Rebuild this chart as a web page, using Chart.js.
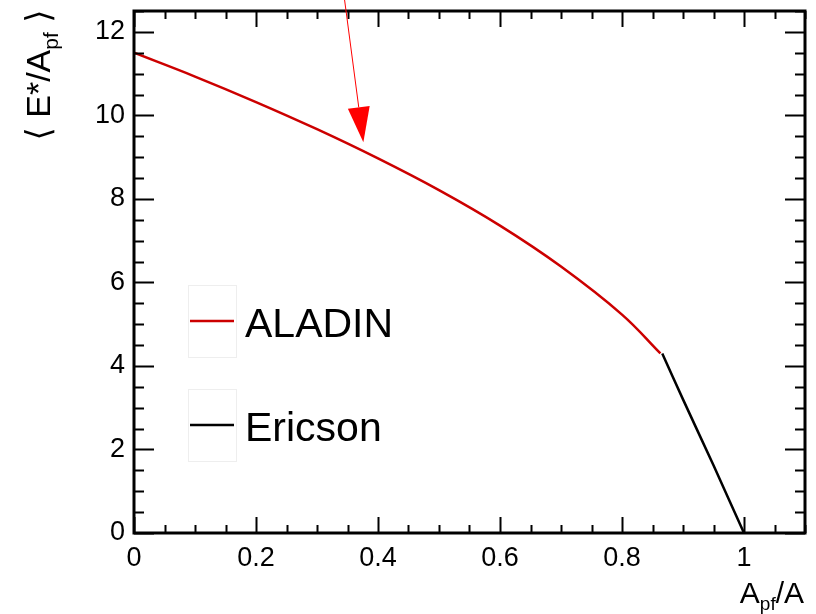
<!DOCTYPE html>
<html>
<head>
<meta charset="utf-8">
<script src="https://cdn.jsdelivr.net/npm/chart.js@4/dist/chart.umd.min.js"></script>
<style>
html,body{margin:0;padding:0;background:#fff;}
#wrap{width:816px;height:614px;}
</style>
</head>
<body>
<div id="wrap"><canvas id="c" width="816" height="614"></canvas></div>
<script>
// ---- data ----
const aladinX = [0, 0.1, 0.2, 0.3, 0.4, 0.5, 0.6, 0.7, 0.8, 0.863];
const aladinY = [11.5, 10.93, 10.32, 9.67, 8.97, 8.21, 7.36, 6.38, 5.23, 4.30];
const ericsonX = [0.866, 0.9, 0.95, 1.0];
const ericsonY = [4.30, 3.20, 1.62, 0.0];
const seriesLabels = ['ALADIN', 'Ericson'];
const xTickLabels = [0, 0.2, 0.4, 0.6, 0.8, 1];
const yTickLabels = [0, 2, 4, 6, 8, 10, 12];
const arrowFrom = [0.345, 12.79];
const arrowTo = [0.376, 9.36];

const FONT = '"Liberation Sans", Arial, "DejaVu Sans", sans-serif';
const toPts = (xs, ys) => xs.map((x, i) => ({x: x, y: ys[i]}));

const framePlugin = {
  id: 'frame',
  afterDraw(chart) {
    const ctx = chart.ctx;
    const a = chart.chartArea;
    const xs = chart.scales.x, ys = chart.scales.y;
    ctx.save();
    ctx.strokeStyle = '#000';
    // ticks
    ctx.lineWidth = 2;
    ctx.beginPath();
    for (let v = 0; v <= 1.1 + 1e-9; v += 0.05) {
      const major = Math.abs(v / 0.2 - Math.round(v / 0.2)) < 1e-6;
      const L = major ? 16 : 8;
      const px = Math.round(xs.getPixelForValue(v)) + 0.5;
      ctx.moveTo(px, a.bottom); ctx.lineTo(px, a.bottom - L);
      ctx.moveTo(px, a.top); ctx.lineTo(px, a.top + L);
    }
    for (let v = 0; v <= 12.5 + 1e-9; v += 0.5) {
      const major = Math.abs(v / 2 - Math.round(v / 2)) < 1e-6;
      const L = major ? 20 : 10;
      const py = Math.round(ys.getPixelForValue(v)) + 0.5;
      ctx.moveTo(a.left, py); ctx.lineTo(a.left + L, py);
      ctx.moveTo(a.right, py); ctx.lineTo(a.right - L, py);
    }
    ctx.stroke();
    // frame
    ctx.lineWidth = 3;
    ctx.strokeRect(a.left, a.top, a.right - a.left, a.bottom - a.top);

    // arrow
    const x0 = xs.getPixelForValue(arrowFrom[0]), y0 = ys.getPixelForValue(arrowFrom[1]);
    const x1 = xs.getPixelForValue(arrowTo[0]), y1 = ys.getPixelForValue(arrowTo[1]);
    const ang = Math.atan2(y1 - y0, x1 - x0);
    const hl = 35, hw = 11;
    const bx = x1 - hl * Math.cos(ang), by = y1 - hl * Math.sin(ang);
    ctx.strokeStyle = '#ff0000';
    ctx.fillStyle = '#ff0000';
    ctx.lineWidth = 1;
    ctx.beginPath(); ctx.moveTo(x0, y0); ctx.lineTo(bx, by); ctx.stroke();
    ctx.beginPath();
    ctx.moveTo(x1, y1);
    ctx.lineTo(bx + hw * Math.sin(ang), by - hw * Math.cos(ang));
    ctx.lineTo(bx - hw * Math.sin(ang), by + hw * Math.cos(ang));
    ctx.closePath(); ctx.fill();

    // legend
    const entries = chart.data.datasets;
    const boxes = [[188, 285], [188, 389]];
    entries.forEach((ds, i) => {
      const [bx0, by0] = boxes[i];
      ctx.strokeStyle = '#eeeeee'; ctx.lineWidth = 1;
      ctx.strokeRect(bx0 + 0.5, by0 + 0.5, 48, 72);
      ctx.strokeStyle = ds.borderColor; ctx.lineWidth = 2.5;
      ctx.beginPath(); ctx.moveTo(190, by0 + 36); ctx.lineTo(234, by0 + 36); ctx.stroke();
      ctx.fillStyle = '#000';
      ctx.font = '41px ' + FONT;
      ctx.textBaseline = 'alphabetic';
      ctx.textAlign = 'left';
      ctx.fillText(ds.label, 245, by0 + 52);
    });

    // x title: A_pf/A
    ctx.fillStyle = '#000';
    ctx.textBaseline = 'alphabetic';
    ctx.textAlign = 'left';
    const big = '30px ' + FONT, small = '19px ' + FONT;
    ctx.font = big; const wA = ctx.measureText('A').width; const wSl = ctx.measureText('/A').width;
    ctx.font = small; const wpf = ctx.measureText('pf').width;
    let sx = 804 - (wA + wpf + wSl);
    const base = 603;
    ctx.font = big; ctx.fillText('A', sx, base); sx += wA;
    ctx.font = small; ctx.fillText('pf', sx, base + 7); sx += wpf;
    ctx.font = big; ctx.fillText('/A', sx, base);

    // y title: < E*/A_pf >
    ctx.save();
    ctx.translate(50, 75);
    ctx.rotate(-Math.PI / 2);
    const yb = '34px ' + FONT, ys2 = '21px ' + FONT;
    const parts = [['\u27E8 ', yb, 0], ['E*/A', yb, 0], ['pf', ys2, 8], [' \u27E9', yb, 0]];
    let tw = 0;
    parts.forEach(p => { ctx.font = p[1]; p.push(ctx.measureText(p[0]).width); tw += p[3]; });
    let tx = -tw / 2;
    parts.forEach(p => { ctx.font = p[1]; ctx.fillText(p[0], tx, p[2]); tx += p[3]; });
    ctx.restore();

    ctx.restore();
  }
};

new Chart(document.getElementById('c'), {
  type: 'line',
  data: {
    datasets: [
      {label: seriesLabels[0], data: toPts(aladinX, aladinY), borderColor: '#cc0000', borderWidth: 2.5,
       pointRadius: 0, fill: false, tension: 0.4},
      {label: seriesLabels[1], data: toPts(ericsonX, ericsonY), borderColor: '#000000', borderWidth: 2.5,
       pointRadius: 0, fill: false, tension: 0.2}
    ]
  },
  options: {
    responsive: false,
    devicePixelRatio: 1,
    animation: false,
    layout: {padding: {left: 0, top: 11, right: 11, bottom: 0}},
    plugins: {legend: {display: false}, tooltip: {enabled: false}},
    scales: {
      x: {
        type: 'linear', min: 0, max: 1.1,
        grid: {display: false, drawTicks: false},
        border: {display: false},
        afterBuildTicks: s => { s.ticks = xTickLabels.map(v => ({value: v})); },
        afterFit: s => { s.height = 81; s.paddingLeft = 0; s.paddingRight = 0; },
        ticks: {color: '#000', padding: 9, maxRotation: 0, autoSkip: false,
                font: {family: FONT, size: 27}, callback: v => String(v)}
      },
      y: {
        type: 'linear', min: 0, max: 12.5,
        grid: {display: false, drawTicks: false},
        border: {display: false},
        afterBuildTicks: s => { s.ticks = yTickLabels.map(v => ({value: v})); },
        afterFit: s => { s.width = 134; s.paddingTop = 0; s.paddingBottom = 0; },
        ticks: {color: '#000', padding: 9, autoSkip: false,
                font: {family: FONT, size: 27}, callback: v => String(v)}
      }
    }
  },
  plugins: [framePlugin]
});
</script>
</body>
</html>
